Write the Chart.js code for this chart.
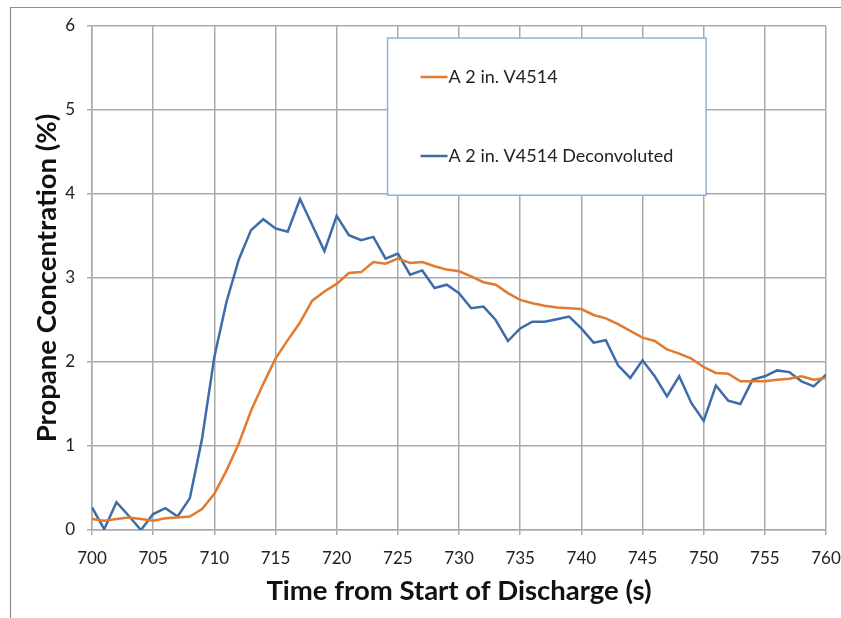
<!DOCTYPE html>
<html>
<head>
<meta charset="utf-8">
<script src="https://cdn.jsdelivr.net/npm/chart.js@4"></script>
<style>
  html, body { margin: 0; padding: 0; background: #ffffff; }
  #wrap { width: 841px; height: 618px; position: relative; }
</style>
</head>
<body>
<div id="wrap"><canvas id="c" width="841" height="618"></canvas></div>
<script>
const times = [];
for (let t = 700; t <= 760; t++) times.push(t);

const seriesLabels = ["A 2 in. V4514", "A 2 in. V4514 Deconvoluted"];

const measured = [
  0.13, 0.11, 0.13, 0.15, 0.13, 0.11, 0.14, 0.15, 0.16, 0.25,
  0.43, 0.71, 1.03, 1.42, 1.74, 2.04, 2.26, 2.47, 2.73, 2.84,
  2.93, 3.06, 3.07, 3.19, 3.17, 3.23, 3.18, 3.19, 3.14, 3.10,
  3.08, 3.02, 2.95, 2.92, 2.82, 2.74, 2.70, 2.67, 2.65, 2.64,
  2.63, 2.56, 2.52, 2.45, 2.37, 2.29, 2.25, 2.15, 2.10, 2.04,
  1.94, 1.87, 1.86, 1.77, 1.77, 1.77, 1.79, 1.80, 1.83, 1.79,
  1.81
];

const deconvoluted = [
  0.27, 0.01, 0.33, 0.17, 0.00, 0.19, 0.26, 0.16, 0.38, 1.09,
  2.06, 2.72, 3.22, 3.57, 3.70, 3.59, 3.55, 3.94, 3.63, 3.32,
  3.74, 3.51, 3.45, 3.49, 3.23, 3.29, 3.04, 3.09, 2.88, 2.92,
  2.82, 2.64, 2.66, 2.50, 2.25, 2.40, 2.48, 2.48, 2.51, 2.54,
  2.40, 2.23, 2.26, 1.96, 1.81, 2.02, 1.83, 1.59, 1.83, 1.51,
  1.30, 1.72, 1.54, 1.50, 1.79, 1.83, 1.90, 1.88, 1.77, 1.71,
  1.85
];

const xTicks = [700, 705, 710, 715, 720, 725, 730, 735, 740, 745, 750, 755, 760];
const yTicks = [0, 1, 2, 3, 4, 5, 6];

const ORANGE = '#E27A2F';
const BLUE = '#3E6CA8';
const GRID = '#aaaaaa';
const FONT = 'Lato, "Open Sans", "DejaVu Sans", sans-serif';

const frame = {
  id: 'frame',
  beforeDraw(chart) {
    const ctx = chart.ctx;
    ctx.save();
    ctx.fillStyle = '#ffffff';
    ctx.fillRect(0, 0, chart.width, chart.height);
    ctx.strokeStyle = '#8c8c8c';
    ctx.lineWidth = 1.2;
    ctx.beginPath();
    ctx.moveTo(10.5, chart.height);
    ctx.lineTo(10.5, 7.5);
    ctx.lineTo(chart.width, 7.5);
    ctx.stroke();
    ctx.restore();
  }
};

const boxLegend = {
  id: 'boxLegend',
  afterDraw(chart) {
    const ctx = chart.ctx;
    const xs = chart.scales.x, ys = chart.scales.y;
    const left = xs.getPixelForValue(724.16), right = xs.getPixelForValue(750.2);
    const top = ys.getPixelForValue(5.857), bottom = ys.getPixelForValue(3.986);
    ctx.save();
    ctx.fillStyle = '#ffffff';
    ctx.fillRect(left, top, right - left, bottom - top);
    ctx.strokeStyle = '#8fb0dc';
    ctx.lineWidth = 1.5;
    ctx.strokeRect(left, top, right - left, bottom - top);
    const rows = [top + 39, top + 118];
    chart.data.datasets.forEach((ds, i) => {
      const y = rows[i];
      ctx.strokeStyle = ds.borderColor;
      ctx.lineWidth = 2.5;
      ctx.beginPath();
      ctx.moveTo(left + 33, y);
      ctx.lineTo(left + 60, y);
      ctx.stroke();
      ctx.fillStyle = '#222222';
      ctx.font = '18px ' + FONT;
      ctx.textBaseline = 'middle';
      ctx.textAlign = 'left';
      ctx.fillText(ds.label, left + 61, y);
    });
    ctx.restore();
  }
};

new Chart(document.getElementById('c'), {
  type: 'line',
  data: {
    datasets: [
      {
        label: seriesLabels[0],
        data: times.map((t, i) => ({ x: t, y: measured[i] })),
        borderColor: ORANGE,
        backgroundColor: ORANGE,
        borderWidth: 2.5,
        pointRadius: 0,
        tension: 0
      },
      {
        label: seriesLabels[1],
        data: times.map((t, i) => ({ x: t, y: deconvoluted[i] })),
        borderColor: BLUE,
        backgroundColor: BLUE,
        borderWidth: 2.5,
        pointRadius: 0,
        tension: 0
      }
    ]
  },
  options: {
    responsive: false,
    animation: false,
    devicePixelRatio: 1,
    layout: { padding: { left: 0, top: 26, right: 15, bottom: 0 } },
    plugins: {
      legend: { display: false },
      tooltip: { enabled: false }
    },
    scales: {
      x: {
        type: 'linear',
        min: 700,
        max: 760,
        afterFit(scale) {
          scale.height = 88;
          scale.paddingLeft = 0;
          scale.paddingRight = 0;
        },
        afterBuildTicks(scale) { scale.ticks = xTicks.map(v => ({ value: v })); },
        ticks: {
          color: '#222222',
          font: { family: FONT, size: 17 },
          padding: 13,
          maxRotation: 0
        },
        grid: { color: GRID, lineWidth: 1.5, tickLength: 5, drawTicks: true },
        border: { color: GRID, width: 1.5 },
        title: {
          display: true,
          text: 'Time from Start of Discharge (s)',
          color: '#111111',
          font: { family: FONT, size: 27.5, weight: 'bold' },
          padding: { top: 0, bottom: 10 }
        }
      },
      y: {
        min: 0,
        max: 6,
        afterFit(scale) {
          scale.width = 92;
          scale.paddingTop = 0;
          scale.paddingBottom = 0;
        },
        afterBuildTicks(scale) { scale.ticks = yTicks.map(v => ({ value: v })); },
        ticks: {
          color: '#222222',
          font: { family: FONT, size: 17 },
          padding: 12
        },
        grid: { color: GRID, lineWidth: 1.5, tickLength: 5 },
        border: { color: GRID, width: 1.5 },
        title: {
          display: true,
          text: 'Propane Concentration (%)',
          color: '#111111',
          font: { family: FONT, size: 27.5, weight: 'bold' },
          padding: { top: 30.5, bottom: 0 }
        }
      }
    }
  },
  plugins: [frame, boxLegend]
});
</script>
</body>
</html>
